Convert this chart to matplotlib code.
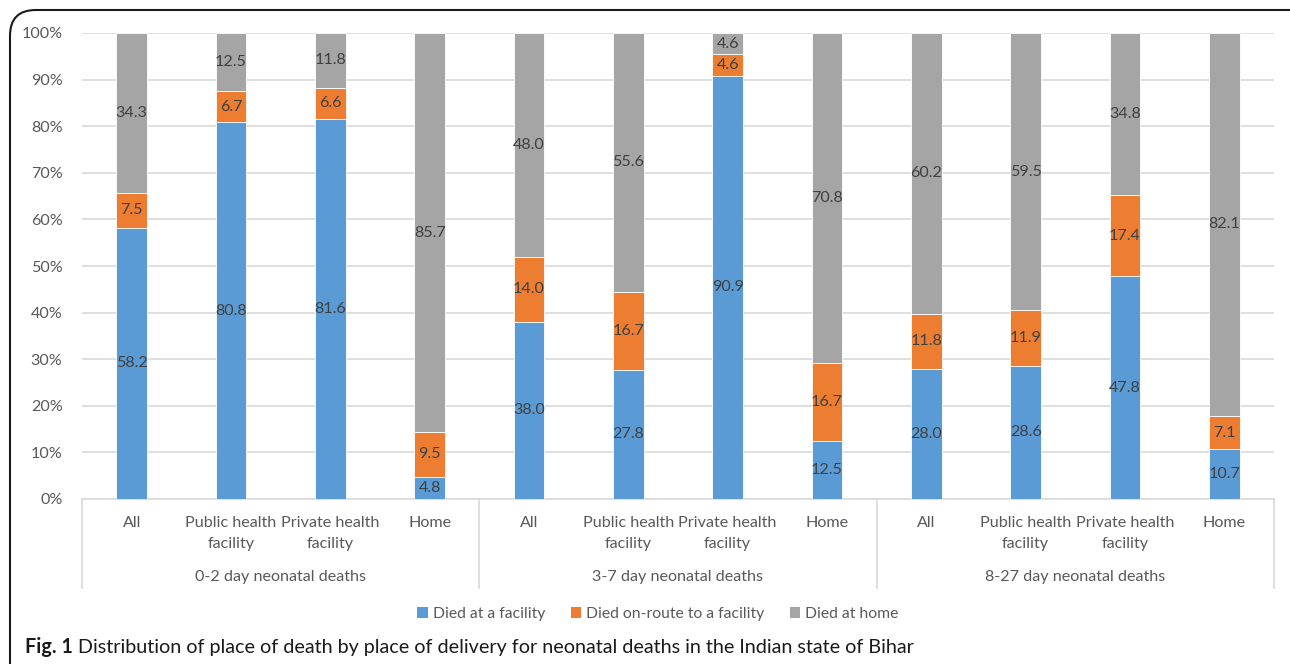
import matplotlib
matplotlib.use("Agg")
import matplotlib.pyplot as plt
import matplotlib.transforms as mtransforms
from matplotlib.patches import FancyBboxPatch, Patch
import numpy as np

plt.rcParams['font.family'] = ['Lato', 'DejaVu Sans']

# ---- data ----
groups = ["0-2 day neonatal deaths", "3-7 day neonatal deaths", "8-27 day neonatal deaths"]
categories = ["All", "Public health\nfacility", "Private health\nfacility", "Home"]
series_names = ["Died at a facility", "Died on-route to a facility", "Died at home"]
died_facility = [58.2, 80.8, 81.6, 4.8, 38.0, 27.8, 90.9, 12.5, 28.0, 28.6, 47.8, 10.7]
died_onroute = [7.5, 6.7, 6.6, 9.5, 14.0, 16.7, 4.6, 16.7, 11.8, 11.9, 17.4, 7.1]
died_home = [34.3, 12.5, 11.8, 85.7, 48.0, 55.6, 4.6, 70.8, 60.2, 59.5, 34.8, 82.1]
yticks = [0, 10, 20, 30, 40, 50, 60, 70, 80, 90, 100]
caption_bold = "Fig. 1"
caption_rest = " Distribution of place of death by place of delivery for neonatal deaths in the Indian state of Bihar"

colors = ["#5B9BD5", "#ED7D31", "#A5A5A5"]
FS = 11.6

W, H = 1290, 664
fig = plt.figure(figsize=(W / 100, H / 100), dpi=100)
ax = fig.add_axes([82 / W, 1 - 499 / H, (1274 - 82) / W, (499 - 33) / H])

data = np.array([died_facility, died_onroute, died_home])
totals = data.sum(axis=0)
pct = data / totals * 100
x = np.arange(len(died_facility))
bottom = np.zeros(len(x))
for i in range(3):
    ax.bar(x, pct[i], bottom=bottom, width=0.31, color=colors[i], edgecolor="white",
           linewidth=0.6, zorder=3, label=series_names[i])
    for xi, b, h, v in zip(x, bottom, pct[i], data[i]):
        ax.text(xi, b + h / 2, f"{v:.1f}", ha="center", va="center", fontsize=FS,
                color="#404040", zorder=4)
    bottom += pct[i]

ax.set_xlim(-0.5, len(x) - 0.5)
ax.set_ylim(0, 100)
ax.set_yticks(yticks)
ax.set_yticklabels([f"{t}%" for t in yticks], fontsize=FS, color="#595959")
ax.yaxis.grid(True, color="#D9D9D9", linewidth=1.2, zorder=0)
ax.set_axisbelow(True)
for s in ["top", "right", "left"]:
    ax.spines[s].set_visible(False)
ax.spines["bottom"].set_color("#D9D9D9")
ax.spines["bottom"].set_linewidth(1.2)
ax.tick_params(axis="both", length=0)
ax.tick_params(axis="y", pad=14)
ax.set_xticks(x)
ax.set_xticklabels(categories * len(groups), fontsize=FS, color="#595959",
                   linespacing=1.62)
ax.tick_params(axis="x", pad=12.5)

trans = mtransforms.blended_transform_factory(ax.transData, ax.transAxes)
sep_bottom = -(588 - 499) / (499 - 33)
n = len(categories)
for k in range(len(groups) + 1):
    xs = k * n - 0.5
    ax.plot([xs, xs], [0, sep_bottom], transform=trans, color="#D9D9D9",
            linewidth=1.2, clip_on=False)
for k, g in enumerate(groups):
    ax.text(k * n + (n - 1) / 2, -(577 - 499) / (499 - 33), g, transform=trans,
            ha="center", va="center", fontsize=FS, color="#595959")

handles = [Patch(facecolor=c, edgecolor="none") for c in colors]
fig.legend(handles, series_names, loc="center", bbox_to_anchor=(658 / W, 1 - 614 / H),
           ncol=3, frameon=False, fontsize=11.3, handlelength=0.65, handleheight=0.65,
           handletextpad=0.35, columnspacing=1.6, labelcolor="#595959")

# border
border = FancyBboxPatch((10 / W, -0.05), 1.05, 1 - 10 / H + 0.05,
                        boxstyle="round,pad=0,rounding_size=0.02",
                        transform=fig.transFigure, fill=False, edgecolor="#1a1a1a",
                        linewidth=1.5, mutation_aspect=W / H)
fig.patches.append(border)

# caption
t1 = fig.text(25 / W, 1 - 647 / H, caption_bold, fontsize=14.2, fontweight="bold",
              color="#1a1a1a", va="center", ha="left")
fig.canvas.draw()
bb = t1.get_window_extent(renderer=fig.canvas.get_renderer())
fig.text(bb.x1 / W, 1 - 647 / H, caption_rest, fontsize=14.2, color="#1a1a1a",
         va="center", ha="left")

fig.savefig("out.png", dpi=100)
